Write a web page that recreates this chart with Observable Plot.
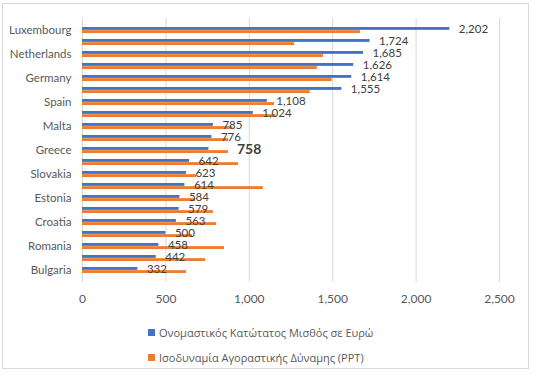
<!DOCTYPE html>
<html>
<head>
<meta charset="utf-8">
<script src="https://cdn.jsdelivr.net/npm/d3@7"></script>
<script src="https://cdn.jsdelivr.net/npm/@observablehq/plot@0.6"></script>
<style>
  html, body { margin: 0; padding: 0; background: #fff; }
  #wrap { position: relative; width: 536px; height: 373px; overflow: hidden; background: #fff; }
  #frame { position: absolute; left: 2px; top: 3px; width: 527px; height: 366px; border: 1px solid #d9d9d9; box-sizing: border-box; pointer-events: none; }
  #chart { position: absolute; left: 0; top: 0; }
  .leg { position: absolute; left: 148px; font-family: "Open Sans", "Noto Sans", sans-serif; font-size: 11px; color: #595959; display: flex; align-items: center; white-space: nowrap; }
  .leg .sw { width: 7px; height: 7px; margin-right: 4px; }
</style>
</head>
<body>
<div id="wrap">
  <div id="chart"></div>
  <div class="leg" style="top:324px;height:16px"><span class="sw" id="sw0"></span><span id="lg0"></span></div>
  <div class="leg" style="top:349px;height:16px"><span class="sw" id="sw1"></span><span id="lg1"></span></div>
  <div id="frame"></div>
</div>
<script>
const countries = ["Luxembourg","Ireland","Netherlands","Belgium","Germany","France","Spain","Slovenia","Malta","Portugal","Greece","Lithuania","Slovakia","Poland","Estonia","Czechia","Croatia","Hungary","Romania","Latvia","Bulgaria"];
const nominal = [2202,1724,1685,1626,1614,1555,1108,1024,785,776,758,642,623,614,584,579,563,500,458,442,332];
const pps = [1667,1271,1445,1408,1497,1365,1152,1160,902,877,875,935,685,1084,678,785,804,660,851,738,623];
const seriesNames = ["Ονομαστικός Κατώτατος Μισθός σε Ευρώ", "Ισοδυναμία Αγοραστικής Δύναμης (PPT)"];
const colors = ["#4472C4", "#ED7D31"];
const xTicks = [0, 500, 1000, 1500, 2000, 2500];
const shownLabels = countries.filter((d, i) => i % 2 === 0);
const highlight = "Greece";

const rows = countries.map((c, i) => ({country: c, nominal: nominal[i], pps: pps[i]}));
const fmt = d3.format(",");

const W = 536, H = 316, mt = 18, mb = 34, ml = 82, mr = 37;
const step = (H - mt - mb) / countries.length;
const bw = step * 0.5;

const chart = Plot.plot({
  width: W, height: H,
  marginTop: mt, marginBottom: mb, marginLeft: ml, marginRight: mr,
  style: {fontFamily: "Lato, 'Open Sans', sans-serif", fontSize: "11.5px", color: "#595959", background: "transparent"},
  x: {domain: [0, 2500], label: null},
  y: {domain: countries, paddingInner: 0.5, paddingOuter: 0.25, label: null},
  marks: [
    Plot.gridX(xTicks, {stroke: "#d9d9d9", strokeOpacity: 1}),
    Plot.barX(rows, {x: "nominal", y: "country", fill: colors[0], insetBottom: bw / 2}),
    Plot.barX(rows, {x: "pps", y: "country", fill: colors[1], insetTop: bw / 2}),
    Plot.text(rows.filter(d => d.country !== highlight), {x: "nominal", y: "country", text: d => fmt(d.nominal), dx: 9, dy: -bw / 4, textAnchor: "start", fill: "#404040"}),
    Plot.text(rows.filter(d => d.country === highlight), {x: "nominal", y: "country", text: d => fmt(d.nominal), dx: 28, dy: -bw / 4 + 1, textAnchor: "start", fill: "#404040", fontWeight: "bold", fontSize: 14}),
    Plot.axisX({ticks: xTicks, tickSize: 0, tickPadding: 12, tickFormat: fmt, fill: "#595959", fontSize: 12, label: null}),
    Plot.axisY({ticks: shownLabels, tickSize: 0, tickPadding: 11, fill: "#595959", fontSize: 11.5, label: null})
  ]
});
document.getElementById("chart").appendChild(chart);
document.getElementById("sw0").style.background = colors[0];
document.getElementById("sw1").style.background = colors[1];
document.getElementById("lg0").textContent = seriesNames[0];
document.getElementById("lg1").textContent = seriesNames[1];
</script>
</body>
</html>
